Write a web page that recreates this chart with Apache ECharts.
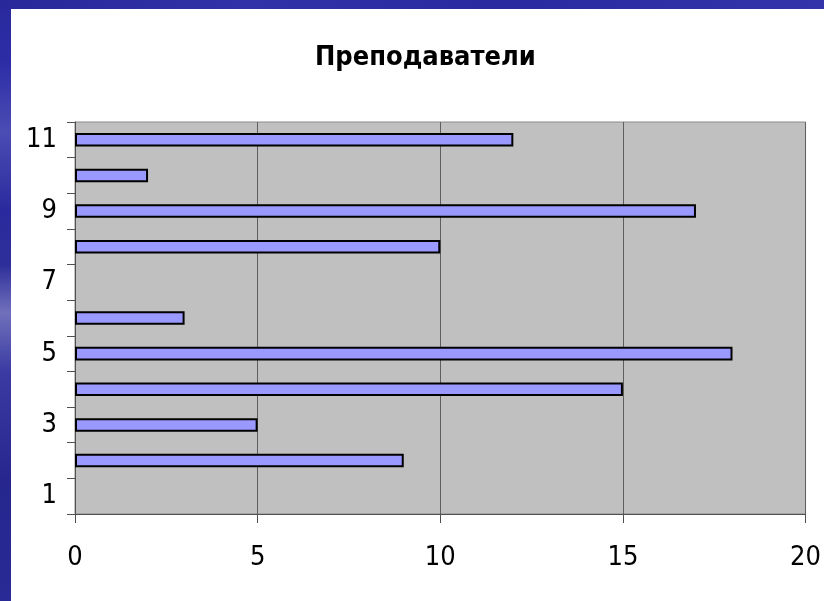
<!DOCTYPE html>
<html>
<head>
<meta charset="utf-8">
<script src="https://cdn.jsdelivr.net/npm/echarts@6/dist/echarts.min.js"></script>
<style>
  html, body { margin: 0; padding: 0; width: 824px; height: 601px; overflow: hidden; }
  body {
    background: linear-gradient(180deg, #2a2a9c 0%, #2c2ca6 10%, #4c4cb4 22%, #2a2a9e 35%, #2e2e9a 44%, #7070bc 52%, #3a3aa2 62%, #26268e 80%, #2a2a96 100%);
  }
  #topband {
    position: absolute; left: 0; top: 0; width: 824px; height: 9px;
    background: linear-gradient(90deg, #28289a 0%, #3232a8 30%, #2a2aa0 60%, #3434aa 100%);
  }
  #chart {
    position: absolute; left: 11px; top: 9px; width: 813px; height: 592px;
    background: #ffffff;
  }
</style>
</head>
<body>
<div id="topband"></div>
<div id="chart"></div>
<script>
  // Number of teachers per group (groups 1..11)
  const categories = ['1', '2', '3', '4', '5', '6', '7', '8', '9', '10', '11'];
  const teachers = [0, 9, 5, 15, 18, 3, 0, 10, 17, 2, 12];
  const xTicks = [0, 5, 10, 15, 20];

  const FONT = '"Liberation Sans Narrow", "DejaVu Sans Condensed", "Liberation Sans", Arial, sans-serif';

  const chart = echarts.init(document.getElementById('chart'), null, { renderer: 'canvas' });

  chart.setOption({
    animation: false,
    title: {
      text: 'Преподаватели',
      left: 299,
      top: 30,
      textStyle: { fontFamily: FONT, fontSize: 27, fontWeight: 'bold', color: '#000' }
    },
    grid: {
      left: 64, top: 113, width: 733, height: 392,
      show: true,
      backgroundColor: '#c0c0c0',
      borderColor: '#8a8a8a',
      borderWidth: 1
    },
    xAxis: {
      type: 'value',
      min: xTicks[0],
      max: xTicks[xTicks.length - 1],
      interval: xTicks[1] - xTicks[0],
      axisLine: { show: true, lineStyle: { color: '#505050', width: 1 } },
      axisTick: { show: true, length: 9, lineStyle: { color: '#505050' } },
      splitLine: { show: true, lineStyle: { color: '#5e5e5e', width: 1 } },
      axisLabel: { fontFamily: FONT, fontSize: 27, color: '#000', margin: 30 }
    },
    yAxis: {
      type: 'category',
      data: categories,
      axisLine: { show: true, lineStyle: { color: '#505050', width: 1 } },
      axisTick: { show: true, length: 8, interval: 0, lineStyle: { color: '#505050' } },
      axisLabel: {
        fontFamily: FONT, fontSize: 27, color: '#000', margin: 18, interval: 1,
        padding: [8, 0, 0, 0]
      },
      splitLine: { show: false }
    },
    series: [{
      type: 'bar',
      barWidth: '38%',
      data: teachers.map(v => v === 0 ? { value: v, itemStyle: { borderWidth: 0 } } : v),
      itemStyle: { color: '#9999ff', borderColor: '#000000', borderWidth: 2 }
    }]
  });
</script>
</body>
</html>
